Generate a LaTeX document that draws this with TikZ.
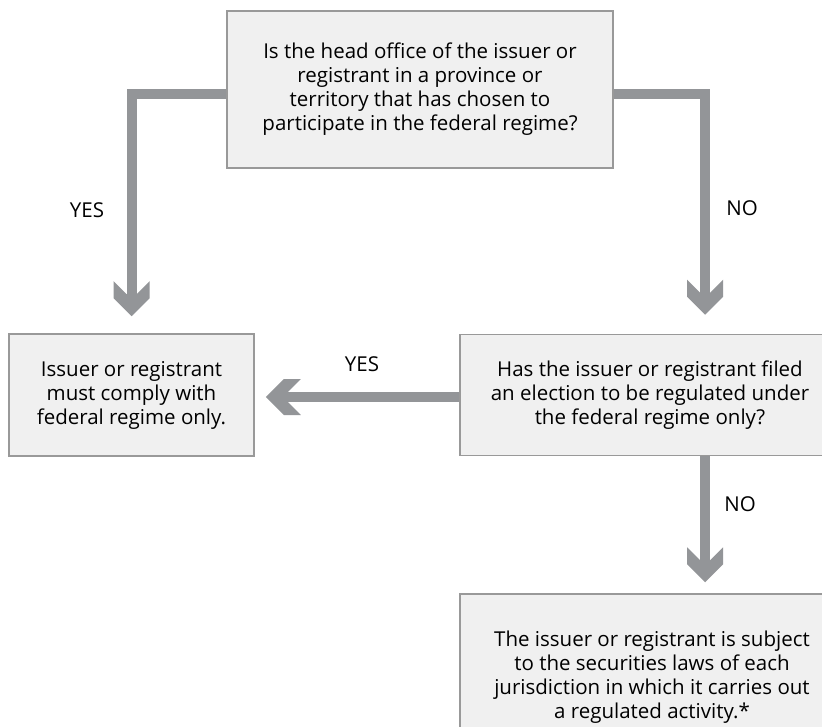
\documentclass[tikz,border=0pt]{standalone}
\usepackage{fontspec}
\setmainfont{Open Sans}
\usepackage{tikz}
\usetikzlibrary{arrows.meta, positioning}

\definecolor{boxfill}{RGB}{240,240,240}
\definecolor{boxline}{RGB}{153,153,153}
\definecolor{flow}{RGB}{147,149,152}

% broad chevron head for the grey flow bars
\pgfdeclarearrow{
  name = Chevron,
  setup code = {
    \pgfarrowssettipend{0pt}
    \pgfarrowssetlineend{-20pt}
    \pgfarrowssetbackend{-35pt}
    \pgfarrowssetvisualbackend{-22pt}
    \pgfarrowshullpoint{0pt}{0pt}
    \pgfarrowshullpoint{-35pt}{18pt}
    \pgfarrowshullpoint{-35pt}{-18pt}
  },
  drawing code = {
    \pgfpathmoveto{\pgfpointorigin}
    \pgfpathlineto{\pgfpoint{-18pt}{18pt}}
    \pgfpathlineto{\pgfpoint{-35pt}{18pt}}
    \pgfpathlineto{\pgfpoint{-22pt}{5pt}}
    \pgfpathlineto{\pgfpoint{-22pt}{-5pt}}
    \pgfpathlineto{\pgfpoint{-35pt}{-18pt}}
    \pgfpathlineto{\pgfpoint{-18pt}{-18pt}}
    \pgfpathclose
    \pgfusepathqfill
  }
}

\begin{document}
\begin{tikzpicture}[x=1pt, y=-1pt,
  every node/.style={font=\fontsize{20.5}{24}\selectfont},
  box/.style={draw=boxline, line width=1.5pt, fill=boxfill, align=center, inner sep=0pt},
  flowline/.style={draw=flow, line width=10pt, line join=miter, -Chevron}]
\clip (0,0) rectangle (822,727);
\fill[white] (0,0) rectangle (822,727);

% questions and outcomes
\node[box, minimum width=386pt, minimum height=157pt] (head) at (420,89.5)
  {Is the head office of the issuer or\\ registrant in a province or\\ territory that has chosen to\\ participate in the federal regime?};
\node[box, minimum width=245pt, minimum height=122pt] (fedonly) at (131.5,395)
  {Issuer or registrant\\ must comply with\\ federal regime only.};
\node[box, minimum width=380pt, minimum height=121pt] (elect) at (650,395)
  {Has the issuer or registrant filed\\ an election to be regulated under\\ the federal regime only?};
\node[box, minimum width=384pt, minimum height=166pt] (laws) at (652,677)
  {The issuer or registrant is subject\\ to the securities laws of each\\ jurisdiction in which it carries out\\ a regulated activity.*};

\coordinate (spine) at (705,0);

% arrows
\draw[flowline, shorten >=17pt] ([yshift=-4.5pt]head.west) -| (fedonly.north);
\draw[flowline, shorten >=19pt] ([yshift=-4.5pt]head.east) -| (spine |- elect.north);
\draw[flowline, shorten >=11pt] ([yshift=-2pt]elect.west) -- ([yshift=-2pt]fedonly.east);
\draw[flowline, shorten >=11pt] (spine |- elect.south) -- (spine |- laws.north);

\node (yes1) at (87,210) {YES};
\node (no1) at (742,208) {NO};
\node (yes2) at (362,364) {YES};
\node (no2) at (740,504) {NO};

\end{tikzpicture}
\end{document}
